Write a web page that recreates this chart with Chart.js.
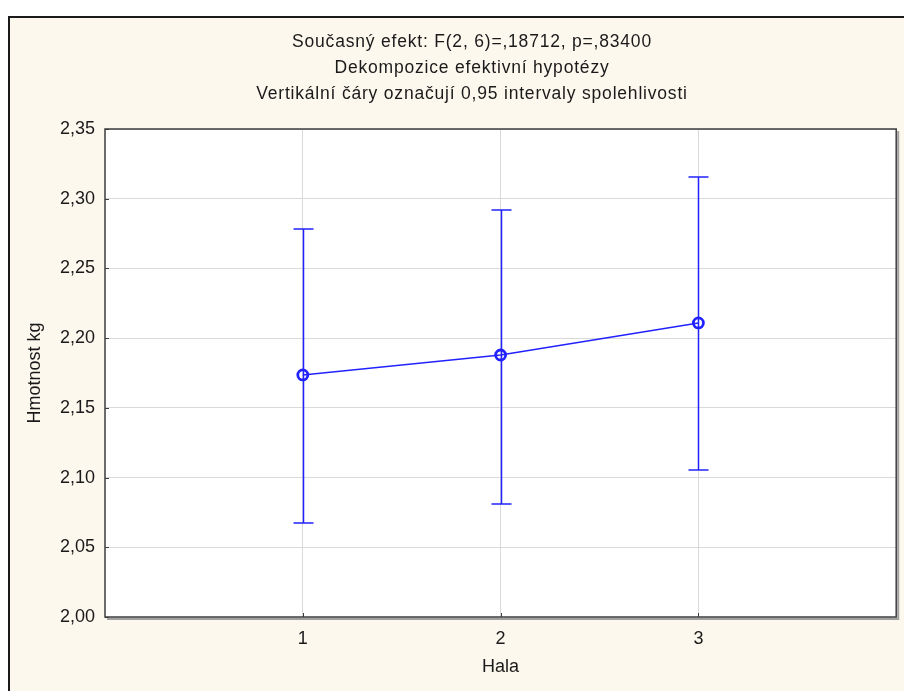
<!DOCTYPE html>
<html>
<head>
<meta charset="utf-8">
<title>Hmotnost podle haly</title>
<script src="https://cdn.jsdelivr.net/npm/chart.js@4"></script>
<style>
    body { margin: 0; background: #ffffff; }
    #graf { display: block; }
</style>
</head>
<body>
<canvas id="graf" width="904" height="691"></canvas>
<script>
/* data */

const haly = [1, 2, 3];
const prumery = [2.1736, 2.1879, 2.2109];
const dolniMez = [2.0674, 2.0810, 2.1054];
const horniMez = [2.2783, 2.2919, 2.3156];

const nadpisy = [
    "Současný efekt: F(2, 6)=,18712, p=,83400",
    "Dekompozice efektivní hypotézy",
    "Vertikální čáry označují 0,95 intervaly spolehlivosti"
];

const pismo = "'Liberation Sans', Arial, sans-serif";
const modra = "#2222ff";

//cream frame, white plot area, titles
const pozadi = {
    id: "pozadi",
    beforeDraw(chart) {
        const ctx = chart.ctx;
        const a = chart.chartArea;
        ctx.save();
        ctx.fillStyle = "#ffffff";
        ctx.fillRect(0, 0, chart.width, chart.height);
        ctx.fillStyle = "#fdf8ee";
        ctx.fillRect(9, 17, chart.width, chart.height);
        ctx.strokeStyle = "#1a1a1a";
        ctx.lineWidth = 2;
        ctx.beginPath();
        ctx.moveTo(9, chart.height);
        ctx.lineTo(9, 17);
        ctx.lineTo(chart.width, 17);
        ctx.stroke();

        ctx.fillStyle = "#ffffff";
        ctx.fillRect(a.left, a.top, a.right - a.left, a.bottom - a.top);

        ctx.fillStyle = "#1a1a1a";
        ctx.font = "17.5px " + pismo;
        ctx.letterSpacing = "0.8px";
        ctx.textAlign = "center";
        ctx.textBaseline = "middle";
        nadpisy.forEach((t, i) => ctx.fillText(t, 472, 42 + i * 26));
        ctx.restore();
    },
    afterDraw(chart) {
        //plot border with a small shadow, inward tick marks
        const ctx = chart.ctx;
        const a = chart.chartArea;
        ctx.save();
        ctx.strokeStyle = "#a0a0a0";
        ctx.lineWidth = 2;
        ctx.beginPath();
        ctx.moveTo(a.right + 2, a.top + 2);
        ctx.lineTo(a.right + 2, a.bottom + 2);
        ctx.lineTo(a.left + 2, a.bottom + 2);
        ctx.stroke();
        ctx.strokeStyle = "#3c3c3c";
        ctx.lineWidth = 1.5;
        ctx.strokeRect(a.left, a.top, a.right - a.left, a.bottom - a.top);

        ctx.lineWidth = 1;
        ctx.beginPath();
        chart.scales.y.ticks.forEach(t => {
            const y = Math.round(chart.scales.y.getPixelForValue(t.value)) + 0.5;
            ctx.moveTo(a.left, y);
            ctx.lineTo(a.left + 4, y);
        });
        chart.scales.x.ticks.forEach(t => {
            const x = Math.round(chart.scales.x.getPixelForValue(t.value)) + 0.5;
            ctx.moveTo(x, a.bottom);
            ctx.lineTo(x, a.bottom - 4);
        });
        ctx.stroke();
        ctx.restore();
    }
};

//vertical confidence interval lines with caps
const intervaly = {
    id: "intervaly",
    beforeDatasetsDraw(chart) {
        const ctx = chart.ctx;
        const sx = chart.scales.x;
        const sy = chart.scales.y;
        ctx.save();
        ctx.strokeStyle = modra;
        ctx.lineWidth = 1.5;
        haly.forEach((h, i) => {
            const x = Math.round(sx.getPixelForValue(h)) + 0.5;
            const y1 = sy.getPixelForValue(horniMez[i]);
            const y2 = sy.getPixelForValue(dolniMez[i]);
            ctx.beginPath();
            ctx.moveTo(x, y1);
            ctx.lineTo(x, y2);
            ctx.moveTo(x - 10, y1);
            ctx.lineTo(x + 10, y1);
            ctx.moveTo(x - 10, y2);
            ctx.lineTo(x + 10, y2);
            ctx.stroke();
        });
        ctx.restore();
    }
};

const data = {
    datasets: [{
        label: "Hmotnost kg",
        data: haly.map((h, i) => ({ x: h, y: prumery[i] })),
        showLine: true,
        borderColor: modra,
        borderWidth: 1.5,
        pointRadius: 5,
        pointBorderWidth: 2.8,
        pointBackgroundColor: "rgba(0,0,0,0)",
        pointBorderColor: modra
    }]
};

const config = {
    type: "scatter",
    data: data,
    options: {
        responsive: false,
        devicePixelRatio: 1,
        animation: false,
        layout: { padding: { left: 0, top: 129, right: 6, bottom: 0 } },
        plugins: {
            legend: { display: false },
            tooltip: { enabled: false }
        },
        scales: {
            x: {
                type: "linear",
                min: 0,
                max: 4,
                afterBuildTicks: scale => { scale.ticks = haly.map(v => ({ value: v })); },
                afterFit: scale => { scale.height = 74; },
                border: { display: false },
                grid: { color: "#d9d9d9", drawTicks: false },
                ticks: {
                    color: "#1a1a1a",
                    font: { family: pismo, size: 18 },
                    padding: 11,
                    callback: v => String(v)
                },
                title: {
                    display: true,
                    text: "Hala",
                    color: "#1a1a1a",
                    font: { family: pismo, size: 18 },
                    padding: { top: 0, bottom: 13 }
                }
            },
            y: {
                min: 2.0,
                max: 2.35,
                afterFit: scale => { scale.width = 105; },
                border: { display: false },
                grid: { color: "#d9d9d9", drawTicks: false },
                ticks: {
                    stepSize: 0.05,
                    color: "#1a1a1a",
                    font: { family: pismo, size: 18 },
                    padding: 10,
                    callback: v => v.toFixed(2).replace(".", ",")
                },
                title: {
                    display: true,
                    text: "Hmotnost kg",
                    color: "#1a1a1a",
                    font: { family: pismo, size: 18 },
                    padding: { top: 24, bottom: 0 }
                }
            }
        }
    },
    plugins: [pozadi, intervaly]
};

const ctx = document.getElementById("graf").getContext("2d");
const graf = new Chart(ctx, config);
</script>
</body>
</html>
